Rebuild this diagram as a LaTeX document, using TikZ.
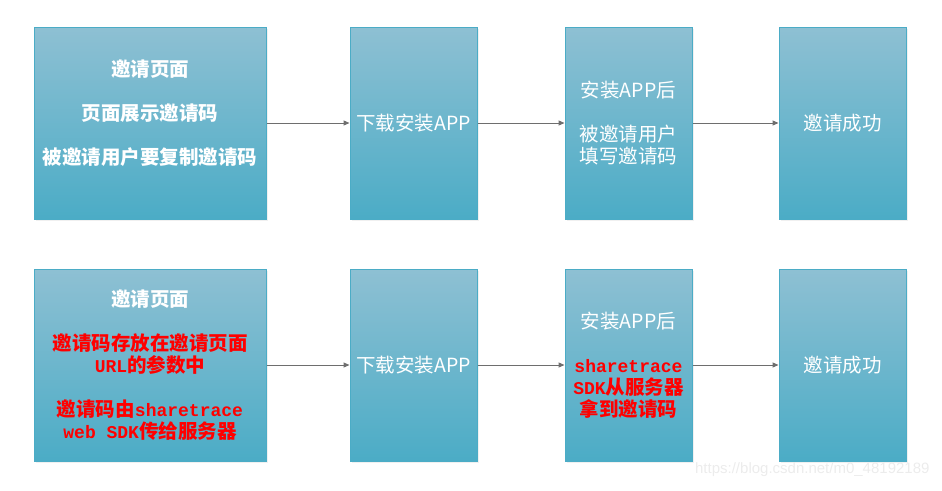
\documentclass[tikz,border=0pt]{standalone}
\usepackage{fontspec}
\newfontfamily\cjk{Noto Sans CJK SC}
\newfontfamily\ascii{Liberation Mono}
\newfontfamily\wmfont{Liberation Sans}
\usetikzlibrary{positioning,arrows.meta,shadows}
\definecolor{boxtop}{RGB}{142,192,211}
\definecolor{boxbot}{RGB}{75,172,198}
\definecolor{boxline}{RGB}{75,172,198}
\definecolor{arrowgray}{RGB}{110,110,110}
\newcommand{\en}[1]{{\ascii\fontsize{18}{22}\selectfont #1}}
\newcommand{\redtxt}[1]{\textcolor{red}{\bfseries #1}}

\begin{document}
\begin{tikzpicture}[x=1pt, y=-1pt, >={Triangle[length=6pt,width=5pt]},
  box/.style={draw=boxline, line width=1pt, top color=boxtop, bottom color=boxbot,
    minimum height=192pt, minimum width=127pt, inner sep=2pt, align=center, text=white,
    font=\cjk\fontsize{19.5}{22}\selectfont,
    drop shadow={opacity=0.12, shadow xshift=1.5pt, shadow yshift=-1.5pt}},
  wide/.style={box, minimum width=232pt},
  flow/.style={->, draw=arrowgray, line width=1pt}]
\useasboundingbox (0,0) rectangle (942,490);
% first row
\node[wide, anchor=north west] (page) at (33.5,26.5) {\bfseries 邀请页面\\[22pt] \bfseries 页面展示邀请码\\[22pt] \bfseries 被邀请用户要复制邀请码\\ ~};
\node[box, right=83pt of page] (dl) {下载安装APP};
\node[box, right=87pt of dl] (inst) {安装APP后\\[22pt] 被邀请用户\\ 填写邀请码};
\node[box, right=86pt of inst] (done) {邀请成功};
% second row
\node[wide, below=49pt of page] (page2) {\bfseries 邀请页面\\[22pt] \redtxt{邀请码存放在邀请页面}\\ \redtxt{\en{URL}的参数中}\\[22pt] \redtxt{邀请码由\en{sharetrace}}\\ \redtxt{\en{web SDK}传给服务器}};
\node[box, right=83pt of page2] (dl2) {下载安装APP};
\node[box, right=87pt of dl2] (inst2) {安装APP后\\[22pt] \redtxt{\en{sharetrace}}\\ \redtxt{\en{SDK}从服务器}\\ \redtxt{拿到邀请码}};
\node[box, right=86pt of inst2] (done2) {邀请成功};
\draw[flow] (page) -- (dl);
\draw[flow] (dl) -- (inst);
\draw[flow] (inst) -- (done);
\draw[flow] (page2) -- (dl2);
\draw[flow] (dl2) -- (inst2);
\draw[flow] (inst2) -- (done2);
\node[anchor=east, text=gray!15, font=\wmfont\fontsize{15}{15}\selectfont] (wm) at (933,470) {https://blog.csdn.net/m0\_48192189};
\end{tikzpicture}
\end{document}
